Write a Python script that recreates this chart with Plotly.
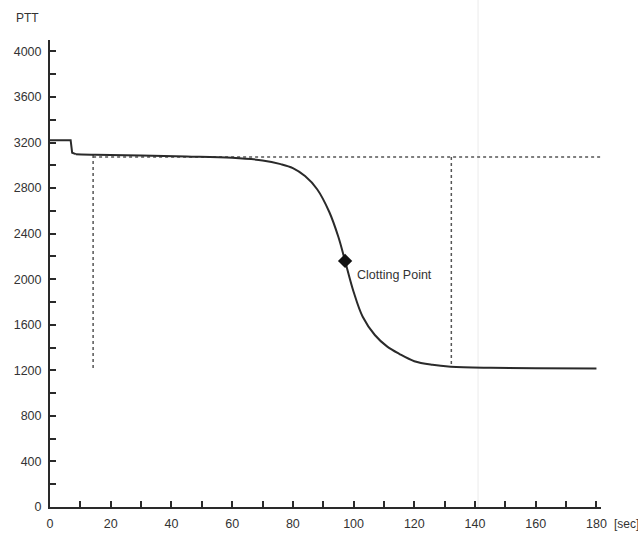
import plotly.graph_objects as go

# Data
time_sec = [0, 6.8, 7.3, 8.5, 15, 30, 45, 60, 70, 76, 80, 84, 88, 92, 95, 97.2,
            100, 103, 107, 111, 115, 120, 126, 132, 145, 160, 180]
ptt = [3220, 3220, 3110, 3098, 3093, 3087, 3078, 3066, 3043, 3010, 2975, 2905,
       2790, 2590, 2370, 2160, 1890, 1670, 1510, 1410, 1345, 1280, 1248, 1232,
       1222, 1218, 1215]

clot_x = [97.2]
clot_y = [2160]
clot_label = "Clotting Point"

baseline_level = 3073
start_x = 14.2
end_x = 132.2
start_bottom = 1210
end_bottom = 1230

x_ticks = [0, 20, 40, 60, 80, 100, 120, 140, 160, 180]
y_ticks = [0, 400, 800, 1200, 1600, 2000, 2400, 2800, 3200, 3600, 4000]

ink = "#2a2a2a"
font = "Liberation Sans, Arial, sans-serif"

fig = go.Figure()

# faint scan line
fig.add_shape(type="line", xref="x", yref="paper", x0=141, x1=141, y0=0, y1=1.09,
              line=dict(color="#ececec", width=1), layer="below")

# dotted reference lines
dot = dict(color="#555", width=1.5, dash="dot")
fig.add_trace(go.Scatter(x=[start_x, 181.9], y=[baseline_level, baseline_level], mode="lines",
                         line=dot, hoverinfo="skip"))
fig.add_trace(go.Scatter(x=[start_x, start_x], y=[3090, start_bottom], mode="lines",
                         line=dot, hoverinfo="skip"))
fig.add_trace(go.Scatter(x=[end_x, end_x], y=[baseline_level, end_bottom], mode="lines",
                         line=dot, hoverinfo="skip"))

# main curve: initial step drawn straight, the rest smoothed
k = 4
fig.add_trace(go.Scatter(x=time_sec[:k], y=ptt[:k], mode="lines",
                         line=dict(color=ink, width=2)))
fig.add_trace(go.Scatter(x=time_sec[k - 1:], y=ptt[k - 1:], mode="lines",
                         line=dict(color=ink, width=2, shape="spline", smoothing=1.0)))

# clotting point
fig.add_trace(go.Scatter(x=clot_x, y=clot_y, mode="markers",
                         marker=dict(symbol="diamond", size=11, color="#111")))

fig.add_annotation(x=clot_x[0] + 3.3, y=clot_y[0] - 125, text=clot_label, showarrow=False,
                   xanchor="left", yanchor="middle",
                   font=dict(family=font, size=12.5, color="#333"))

fig.add_annotation(xref="paper", yref="paper", x=-0.04, y=1.047, text="PTT", showarrow=False,
                   xanchor="center", yanchor="middle",
                   font=dict(family=font, size=12, color="#333"))
fig.add_annotation(xref="paper", yref="paper", x=1.02, y=-0.0364, text="[sec]", showarrow=False,
                   xanchor="left", yanchor="middle",
                   font=dict(family=font, size=12, color="#333"))

fig.update_layout(
    width=638, height=539,
    margin=dict(l=50, r=37, t=40, b=32, autoexpand=False),
    plot_bgcolor="white", paper_bgcolor="white",
    showlegend=False,
    font=dict(family=font, size=12.5, color="#333"),
    xaxis=dict(range=[0, 181.5], tickvals=x_ticks, showgrid=False, zeroline=False,
               showline=True, linecolor=ink, linewidth=2, automargin=False,
               ticks="inside", ticklen=6, tickwidth=1.5, tickcolor=ink,
               ticklabelstandoff=4,
               minor=dict(dtick=10, ticks="inside", ticklen=6, tickwidth=1.5, tickcolor=ink, showgrid=False),
               tickfont=dict(family=font, size=12.5, color="#333")),
    yaxis=dict(range=[0, 4100], tickvals=y_ticks, showgrid=False, zeroline=False,
               showline=True, linecolor=ink, linewidth=2, automargin=False,
               ticks="inside", ticklen=6, tickwidth=1.5, tickcolor=ink,
               ticklabelstandoff=4,
               minor=dict(dtick=200, ticks="inside", ticklen=6, tickwidth=1.5, tickcolor=ink, showgrid=False),
               tickfont=dict(family=font, size=12.5, color="#333")),
)

fig.write_html("out.html")
